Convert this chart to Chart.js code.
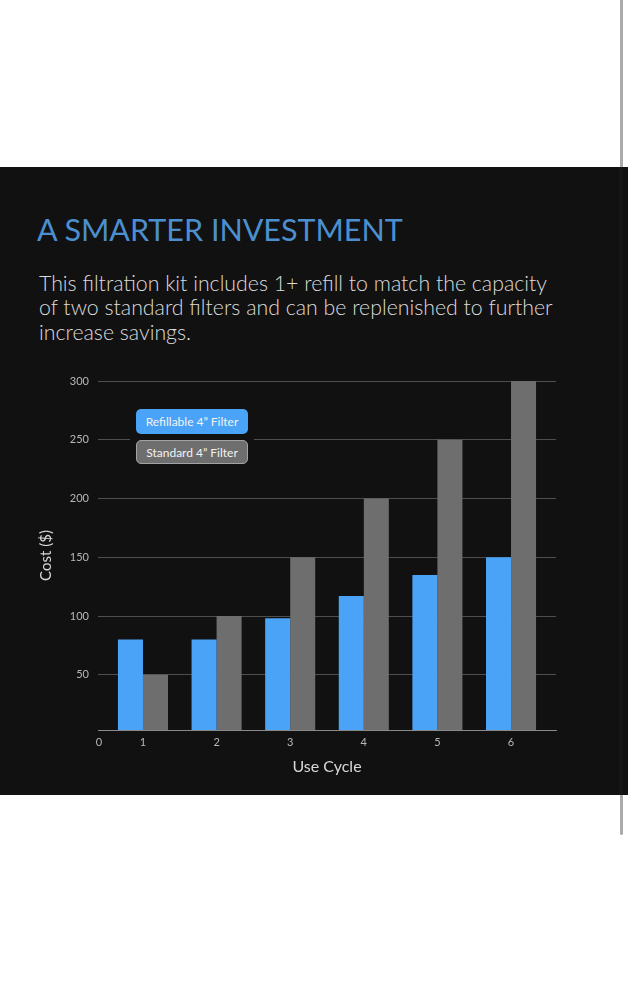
<!DOCTYPE html>
<html><head><meta charset="utf-8">
<script src="https://cdn.jsdelivr.net/npm/chart.js@4/dist/chart.umd.min.js"></script>
<style>
html,body{margin:0;padding:0;background:#fff;width:628px;height:1000px;overflow:hidden;font-family:Lato,"Open Sans",sans-serif;}
#panel{position:absolute;left:0;top:167px;width:628px;height:628px;background:#121112;}
#title{position:absolute;left:37px;top:211px;font-size:30.5px;line-height:37px;color:#4b8fcf;font-weight:400;white-space:nowrap;}
#body{position:absolute;left:39px;top:271px;width:580px;font-size:21.3px;line-height:24.3px;color:#dcdcdc;font-weight:300;white-space:nowrap;}
#chartWrap{position:absolute;left:0;top:360px;width:628px;height:430px;}
#legend{position:absolute;left:130px;top:403px;background:#121112;padding:6px;display:flex;flex-direction:column;gap:6px;}
.lg{box-sizing:border-box;width:112px;border-radius:5px;font-size:12px;color:#f2f2f2;display:flex;align-items:center;justify-content:center;}
#sb1{position:absolute;left:620px;top:0;width:3px;height:167px;background:#ababab;}
#sb2{position:absolute;left:620px;top:795px;width:3px;height:40px;background:#ababab;border-radius:0 0 2px 2px;}
#sb3{position:absolute;left:619px;top:167px;width:4px;height:628px;background:rgba(255,255,255,0.025);}
</style></head>
<body>
<div id="panel"></div>
<div id="title">A SMARTER INVESTMENT</div>
<div id="body">This filtration kit includes 1+ refill to match the capacity<br>of two standard filters and can be replenished to further<br>increase savings.</div>
<div id="chartWrap"><canvas id="c" width="628" height="430"></canvas></div>
<div id="legend"></div>
<div id="sb1"></div><div id="sb2"></div><div id="sb3"></div>
<script>
const categories = ['1', '2', '3', '4', '5', '6'];
const cycles = [1, 2, 3, 4, 5, 6];
const refillable = [80, 80, 98, 117, 135, 150];
const standard = [50, 100, 150, 200, 250, 300];
const yTicks = [50, 100, 150, 200, 250, 300];
const seriesNames = ['Refillable 4\u201D Filter', 'Standard 4\u201D Filter'];
const seriesColors = ['#4aa3f7', '#6e6e6e'];
const originLabel = '0';
const xTitle = 'Use Cycle';
const yTitle = 'Cost ($)';

const tickColor = '#b8b8b8';
const tickFont = {family: 'Lato', size: 11};

const originPlugin = {
  id: 'origin',
  afterDraw(chart) {
    const xs = chart.scales.x;
    const items = xs.getLabelItems();
    if (!items.length) return;
    const it = items[0];
    const ctx = chart.ctx;
    ctx.save();
    ctx.font = '11px Lato';
    ctx.fillStyle = tickColor;
    ctx.textAlign = 'center';
    ctx.textBaseline = it.options.textBaseline || 'middle';
    ctx.fillText(originLabel, chart.chartArea.left + 1, it.options.translation[1] + (it.textOffset || 0));
    ctx.restore();
  }
};

const chart = new Chart(document.getElementById('c'), {
  type: 'bar',
  data: {
    datasets: [
      {label: seriesNames[0], data: cycles.map((c, i) => ({x: c, y: refillable[i]})), backgroundColor: seriesColors[0]},
      {label: seriesNames[1], data: cycles.map((c, i) => ({x: c, y: standard[i]})), backgroundColor: seriesColors[1]}
    ]
  },
  options: {
    responsive: false,
    animation: false,
    devicePixelRatio: 1,
    categoryPercentage: 0.68,
    barPercentage: 1.0,
    layout: {padding: {top: 21, right: 72, left: 0, bottom: 0}},
    plugins: {legend: {display: false}, tooltip: {enabled: false}},
    scales: {
      x: {
        type: 'linear',
        offset: false,
        min: 0.389, max: 6.611,
        afterBuildTicks: s => { s.ticks = cycles.map(v => ({value: v})); },
        afterFit: s => { s.height = 60; },
        grid: {display: false, drawTicks: false},
        border: {display: true, color: '#8a8a8a', width: 1},
        ticks: {color: tickColor, font: tickFont, padding: 6, maxRotation: 0, autoSkip: false,
                callback: v => categories[cycles.indexOf(v)]},
        title: {display: true, text: xTitle, color: '#d8d8d8', font: {family: 'Lato', size: 16}, padding: {top: 0, bottom: 14}}
      },
      y: {
        min: 3, max: 300,
        afterBuildTicks: s => { s.ticks = yTicks.map(v => ({value: v})); },
        afterFit: s => { s.width = 98; },
        grid: {color: '#4e4e4e', drawTicks: false, lineWidth: 1},
        border: {display: false},
        ticks: {color: tickColor, font: tickFont, padding: 9},
        title: {display: true, text: yTitle, color: '#d8d8d8', font: {family: 'Lato', size: 15}, padding: {top: 37, bottom: 0}}
      }
    }
  },
  plugins: [originPlugin]
});

const legend = document.getElementById('legend');
chart.data.datasets.forEach((ds, i) => {
  const d = document.createElement('div');
  d.className = 'lg';
  d.textContent = ds.label;
  d.style.background = ds.backgroundColor;
  d.style.height = i === 0 ? '25px' : '24px';
  if (i === 1) d.style.border = '1px solid #a3a3a3';
  legend.appendChild(d);
});
</script>
</body></html>
